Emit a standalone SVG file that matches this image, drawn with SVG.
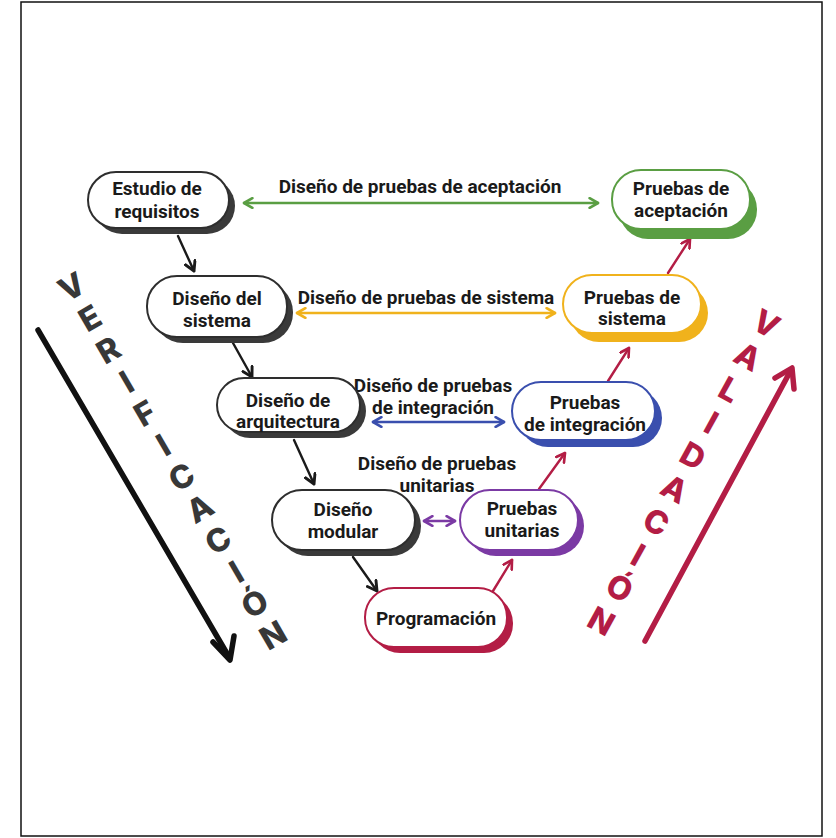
<svg xmlns="http://www.w3.org/2000/svg" width="836" height="838" viewBox="0 0 836 838">
  <style>
    .lbl { font-family: Roboto, "Liberation Sans", Arial, sans-serif; font-weight: 700; font-size: 19px; fill: #1a1a1a; text-anchor: middle; }
    .card { fill: #ffffff; stroke-width: 2; }
    .big { font-family: Inter, "DejaVu Sans", sans-serif; font-weight: 800; font-size: 32px; text-anchor: middle; }
    .k { stroke: #2e2e2e; } .ks { fill: #3a3a3a; }
    .g { stroke: #5a9e43; } .gs { fill: #5a9e43; }
    .y { stroke: #f0b21c; } .ys { fill: #f0b21c; }
    .b { stroke: #3a4fae; } .bs { fill: #3a4fae; }
    .p { stroke: #7b3aa4; } .ps { fill: #7b3aa4; }
    .r { stroke: #b31d45; } .rs { fill: #b31d45; }
    .conn { fill: none; stroke-width: 2.4; stroke-linecap: round; }
  </style>
  <defs>
    <marker id="chev-k" viewBox="0 0 10 10" refX="8" refY="5" markerWidth="5.5" markerHeight="5.5" orient="auto-start-reverse" markerUnits="strokeWidth">
      <path d="M1,1 L8,5 L1,9" fill="none" stroke="#1a1a1a" stroke-width="2.2" stroke-linecap="round" stroke-linejoin="round"/>
    </marker>
    <marker id="chev-r" viewBox="0 0 10 10" refX="8" refY="5" markerWidth="5" markerHeight="5" orient="auto-start-reverse" markerUnits="strokeWidth">
      <path d="M1,1 L8,5 L1,9" fill="none" stroke="#b31d45" stroke-width="2.2" stroke-linecap="round" stroke-linejoin="round"/>
    </marker>
    <marker id="chev-g" viewBox="0 0 10 10" refX="8" refY="5" markerWidth="5" markerHeight="5" orient="auto-start-reverse" markerUnits="strokeWidth">
      <path d="M1,1 L8,5 L1,9" fill="none" stroke="#5a9e43" stroke-width="2.2" stroke-linecap="round" stroke-linejoin="round"/>
    </marker>
    <marker id="chev-y" viewBox="0 0 10 10" refX="8" refY="5" markerWidth="5" markerHeight="5" orient="auto-start-reverse" markerUnits="strokeWidth">
      <path d="M1,1 L8,5 L1,9" fill="none" stroke="#f0b21c" stroke-width="2.2" stroke-linecap="round" stroke-linejoin="round"/>
    </marker>
    <marker id="chev-b" viewBox="0 0 10 10" refX="8" refY="5" markerWidth="5" markerHeight="5" orient="auto-start-reverse" markerUnits="strokeWidth">
      <path d="M1,1 L8,5 L1,9" fill="none" stroke="#3a4fae" stroke-width="2.2" stroke-linecap="round" stroke-linejoin="round"/>
    </marker>
    <marker id="chev-p" viewBox="0 0 10 10" refX="8" refY="5" markerWidth="5" markerHeight="5" orient="auto-start-reverse" markerUnits="strokeWidth">
      <path d="M1,1 L8,5 L1,9" fill="none" stroke="#7b3aa4" stroke-width="2.2" stroke-linecap="round" stroke-linejoin="round"/>
    </marker>
  </defs>

  <!-- outer frame -->
  <rect x="21" y="2" width="801" height="834" fill="#ffffff" stroke="#111111" stroke-width="1.5"/>

  <!-- big side arrows -->
  <g id="verificacion">
    <path d="M38,330 L229,657" fill="none" stroke="#111111" stroke-width="5.5" stroke-linecap="round"/>
    <path d="M213,642 L230,660 L234,636" fill="none" stroke="#111111" stroke-width="5.5" stroke-linecap="round" stroke-linejoin="round"/>
    <text class="big" fill="#383838" transform="translate(72,287) rotate(-30)">
      <tspan x="0" y="11">V</tspan><tspan x="0" y="47.6">E</tspan><tspan x="0" y="84.2">R</tspan><tspan x="0" y="120.8">I</tspan><tspan x="0" y="157.4">F</tspan><tspan x="0" y="194">I</tspan><tspan x="0" y="230.6">C</tspan><tspan x="0" y="267.2">A</tspan><tspan x="0" y="303.8">C</tspan><tspan x="0" y="340.4">I</tspan><tspan x="0" y="377">Ó</tspan><tspan x="0" y="413.6">N</tspan>
    </text>
  </g>
  <g id="validacion">
    <path d="M645,641 L791,370" fill="none" stroke="#b31d45" stroke-width="5.5" stroke-linecap="round"/>
    <path d="M775,378 L792,368 L794,389" fill="none" stroke="#b31d45" stroke-width="5.5" stroke-linecap="round" stroke-linejoin="round"/>
    <text class="big" fill="#b31d45" transform="translate(766,324) rotate(29)">
      <tspan x="0" y="11">V</tspan><tspan x="0" y="48.8">A</tspan><tspan x="0" y="86.6">L</tspan><tspan x="0" y="124.4">I</tspan><tspan x="0" y="162.2">D</tspan><tspan x="0" y="200">A</tspan><tspan x="0" y="237.8">C</tspan><tspan x="0" y="275.6">I</tspan><tspan x="0" y="313.4">Ó</tspan><tspan x="0" y="351.2">N</tspan>
    </text>
  </g>

  <!-- connectors -->
  <g id="connectors">
    <path class="conn" d="M178,236 L194,271" stroke="#1a1a1a" marker-end="url(#chev-k)"/>
    <path class="conn" d="M233,343 L252,377" stroke="#1a1a1a" marker-end="url(#chev-k)"/>
    <path class="conn" d="M294,440 L314,484" stroke="#1a1a1a" marker-end="url(#chev-k)"/>
    <path class="conn" d="M353,557 L377,591" stroke="#1a1a1a" marker-end="url(#chev-k)"/>

    <path class="conn" d="M493,591 L512,560" stroke="#b31d45" marker-end="url(#chev-r)"/>
    <path class="conn" d="M539,489 L565,453" stroke="#b31d45" marker-end="url(#chev-r)"/>
    <path class="conn" d="M608,381 L629,348" stroke="#b31d45" marker-end="url(#chev-r)"/>
    <path class="conn" d="M668,273 L690,239" stroke="#b31d45" marker-end="url(#chev-r)"/>

    <path class="conn" d="M244,203 L598,203" stroke="#5a9e43" marker-start="url(#chev-g)" marker-end="url(#chev-g)"/>
    <path class="conn" d="M297,313 L555,313" stroke="#f0b21c" marker-start="url(#chev-y)" marker-end="url(#chev-y)"/>
    <path class="conn" d="M373,422 L504,422" stroke="#3a4fae" marker-start="url(#chev-b)" marker-end="url(#chev-b)"/>
    <path class="conn" d="M424,521 L455,521" stroke="#7b3aa4" marker-start="url(#chev-p)" marker-end="url(#chev-p)"/>

    <text class="lbl" x="420" y="193">Diseño de pruebas de aceptación</text>
    <text class="lbl" x="426" y="304">Diseño de pruebas de sistema</text>
    <text class="lbl" x="433" y="392">Diseño de pruebas</text>
    <text class="lbl" x="433" y="414">de integración</text>
    <text class="lbl" x="437" y="470">Diseño de pruebas</text>
    <text class="lbl" x="437" y="492">unitarias</text>
  </g>

  <!-- left branch: specification stages -->
  <g id="estudio-requisitos">
    <rect class="ks" x="94" y="178" width="141" height="56" rx="28"/>
    <rect class="card k" x="88" y="172" width="141" height="56" rx="28"/>
    <text class="lbl" x="157" y="195">Estudio de</text>
    <text class="lbl" x="157" y="218">requisitos</text>
  </g>
  <g id="diseno-sistema">
    <rect class="ks" x="153" y="282" width="140" height="61" rx="30"/>
    <rect class="card k" x="147" y="276" width="140" height="61" rx="30"/>
    <text class="lbl" x="217" y="305">Diseño del</text>
    <text class="lbl" x="217" y="327">sistema</text>
  </g>
  <g id="diseno-arquitectura">
    <rect class="ks" x="223" y="384" width="143" height="54" rx="27"/>
    <rect class="card k" x="217" y="378" width="143" height="54" rx="27"/>
    <text class="lbl" x="288" y="407">Diseño de</text>
    <text class="lbl" x="288" y="428">arquitectura</text>
  </g>
  <g id="diseno-modular">
    <rect class="ks" x="278" y="496" width="143" height="60" rx="30"/>
    <rect class="card k" x="272" y="490" width="143" height="60" rx="30"/>
    <text class="lbl" x="343" y="516">Diseño</text>
    <text class="lbl" x="343" y="538">modular</text>
  </g>
  <g id="programacion">
    <rect class="rs" x="371" y="594" width="142" height="59" rx="29"/>
    <rect class="card r" x="365" y="588" width="142" height="59" rx="29"/>
    <text class="lbl" x="436" y="625">Programación</text>
  </g>

  <!-- right branch: testing stages -->
  <g id="pruebas-unitarias">
    <rect class="ps" x="466" y="496" width="118" height="60" rx="30"/>
    <rect class="card p" x="460" y="490" width="118" height="60" rx="30"/>
    <text class="lbl" x="522" y="515">Pruebas</text>
    <text class="lbl" x="522" y="537">unitarias</text>
  </g>
  <g id="pruebas-integracion">
    <rect class="bs" x="519" y="389" width="143" height="58" rx="29"/>
    <rect class="card b" x="512" y="382" width="143" height="58" rx="29"/>
    <text class="lbl" x="585" y="409">Pruebas</text>
    <text class="lbl" x="585" y="431">de integración</text>
  </g>
  <g id="pruebas-sistema">
    <rect class="ys" x="570" y="284" width="138" height="58" rx="29"/>
    <rect class="card y" x="563" y="275" width="138" height="58" rx="29"/>
    <text class="lbl" x="632" y="304">Pruebas de</text>
    <text class="lbl" x="632" y="325">sistema</text>
  </g>
  <g id="pruebas-aceptacion">
    <rect class="gs" x="619" y="180" width="138" height="59" rx="29"/>
    <rect class="card g" x="612" y="170" width="138" height="59" rx="29"/>
    <text class="lbl" x="681" y="195">Pruebas de</text>
    <text class="lbl" x="681" y="217">aceptación</text>
  </g>
</svg>
